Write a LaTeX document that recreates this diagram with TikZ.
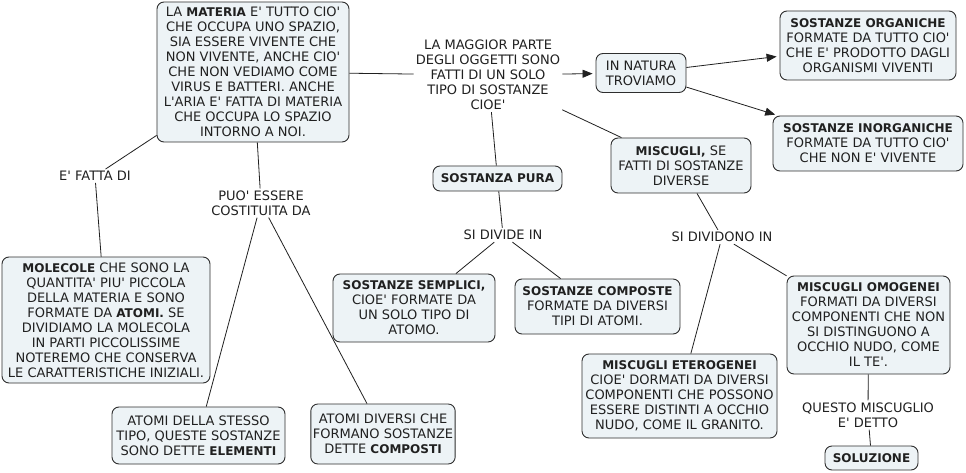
\documentclass[tikz,border=0pt]{standalone}
\usepackage{fontspec}
\setmainfont{DejaVu Sans}[Ligatures=TeXOff]
\usepackage{tikz}
\usetikzlibrary{arrows.meta, positioning}
\definecolor{boxfill}{HTML}{EDF3F6}
\definecolor{boxline}{HTML}{2E2E2E}
\definecolor{inkcolor}{HTML}{202020}
\newcommand{\kw}[1]{{\fontsize{12}{15}\selectfont\bfseries #1}}

\begin{document}
\begin{tikzpicture}[
    x=1pt, y=-1pt,
    font=\fontsize{13}{15}\selectfont,
    box/.style={rectangle, draw=boxline, fill=boxfill, line width=0.9pt, rounded corners=7pt, align=center, inner sep=2pt, text=inkcolor},
    lbl/.style={align=center, inner sep=2pt, text=inkcolor},
    link/.style={draw=inkcolor, line width=0.8pt},
    arrow/.style={link, -{Triangle[length=10pt,width=8pt]}, shorten >=3pt}
]
    \useasboundingbox[fill=white] (0,0) rectangle (966,473);

    % Materia
    \node[box, minimum width=192pt, minimum height=140pt] (materia) at (253,72) {LA \kw{MATERIA} E' TUTTO CIO'\\CHE OCCUPA UNO SPAZIO,\\SIA ESSERE VIVENTE CHE\\NON VIVENTE, ANCHE CIO'\\CHE NON VEDIAMO COME\\VIRUS E BATTERI. ANCHE\\L'ARIA E' FATTA DI MATERIA\\CHE OCCUPA LO SPAZIO\\INTORNO A NOI.};
    \node[lbl] (maggior) at (488,75) {LA MAGGIOR PARTE\\DEGLI OGGETTI SONO\\FATTI DI UN SOLO\\TIPO DI SOSTANZE\\CIOE'};

    % In natura
    \node[box, minimum width=90pt, minimum height=39pt] (natura) at (641,73) {IN NATURA\\TROVIAMO};
    \node[box, minimum width=176pt, minimum height=69pt] (organiche) at (868,45.5) {\kw{SOSTANZE ORGANICHE}\\FORMATE DA TUTTO CIO'\\CHE E' PRODOTTO DAGLI\\ORGANISMI VIVENTI};
    \node[box, minimum width=190pt, minimum height=55pt] (inorganiche) at (868,143.5) {\kw{SOSTANZE INORGANICHE}\\FORMATE DA TUTTO CIO'\\CHE NON E' VIVENTE};

    % Sostanza pura
    \node[box, minimum width=129pt, minimum height=25pt] (pura) at (497.5,178.5) {\kw{SOSTANZA PURA}};
    \node[lbl] (divide) at (503,235) {SI DIVIDE IN};
    \node[box, minimum width=162pt, minimum height=68pt] (semplici) at (414,308) {\kw{SOSTANZE SEMPLICI,}\\CIOE' FORMATE DA\\UN SOLO TIPO DI\\ATOMO.};
    \node[box, minimum width=165pt, minimum height=55pt] (composte) at (597.5,306.5) {\kw{SOSTANZE COMPOSTE}\\FORMATE DA DIVERSI\\TIPI DI ATOMI.};

    % Miscugli
    \node[box, minimum width=140pt, minimum height=55pt] (miscugli) at (681,165.5) {\kw{MISCUGLI,} SE\\FATTI DI SOSTANZE\\DIVERSE};
    \node[lbl] (dividono) at (722,237) {SI DIVIDONO IN};
    \node[box, minimum width=195pt, minimum height=84pt] (eterogenei) at (679.5,396) {\kw{MISCUGLI ETEROGENEI}\\CIOE' DORMATI DA DIVERSI\\COMPONENTI CHE POSSONO\\ESSERE DISTINTI A OCCHIO\\NUDO, COME IL GRANITO.};
    \node[box, minimum width=163pt, minimum height=98pt] (omogenei) at (868.5,325) {\kw{MISCUGLI OMOGENEI}\\FORMATI DA DIVERSI\\COMPONENTI CHE NON\\SI DISTINGUONO A\\OCCHIO NUDO, COME\\IL TE'.};
    \node[lbl] (questo) at (868,415) {QUESTO MISCUGLIO\\E' DETTO};
    \node[box, minimum width=93pt, minimum height=24pt] (soluzione) at (871.5,458) {\kw{SOLUZIONE}};

    % Molecole e atomi
    \node[lbl] (fatta) at (95,176) {E' FATTA DI};
    \node[box, minimum width=208pt, minimum height=126pt] (molecole) at (106,320) {\kw{MOLECOLE} CHE SONO LA\\QUANTITA' PIU' PICCOLA\\DELLA MATERIA E SONO\\FORMATE DA \kw{ATOMI.} SE\\DIVIDIAMO LA MOLECOLA\\IN PARTI PICCOLISSIME\\NOTEREMO CHE CONSERVA\\LE CARATTERISTICHE INIZIALI.};
    \node[lbl] (puo) at (261,203) {PUO' ESSERE\\COSTITUITA DA};
    \node[box, minimum width=173pt, minimum height=57pt] (stesso) at (198.5,435.5) {ATOMI DELLA STESSO\\TIPO, QUESTE SOSTANZE\\SONO DETTE \kw{ELEMENTI}};
    \node[box, minimum width=134pt, minimum height=60pt] (diversi) at (383,434) {ATOMI DIVERSI CHE\\FORMANO SOSTANZE\\DETTE \kw{COMPOSTI}};

    \draw[link] (materia) -- (maggior);
    \draw[arrow] (maggior) -- (natura);
    \draw[arrow] (natura) -- (organiche);
    \draw[arrow] (natura) -- (inorganiche);
    \draw[link] (maggior) -- (pura);
    \draw[link] (maggior) -- (miscugli);
    \draw[link] (pura) -- (divide);
    \draw[link] (divide) -- (semplici);
    \draw[link] (divide) -- (composte);
    \draw[link] (miscugli) -- (dividono);
    \draw[link] (dividono) -- (eterogenei);
    \draw[link] (dividono) -- (omogenei);
    \draw[link] (omogenei) -- (questo);
    \draw[link] (questo) -- (soluzione);
    \draw[link] (materia) -- (fatta);
    \draw[link] (fatta) -- (molecole);
    \draw[link] (materia) -- (puo);
    \draw[link] (puo) -- (stesso);
    \draw[link] (puo) -- (diversi);
\end{tikzpicture}
\end{document}
